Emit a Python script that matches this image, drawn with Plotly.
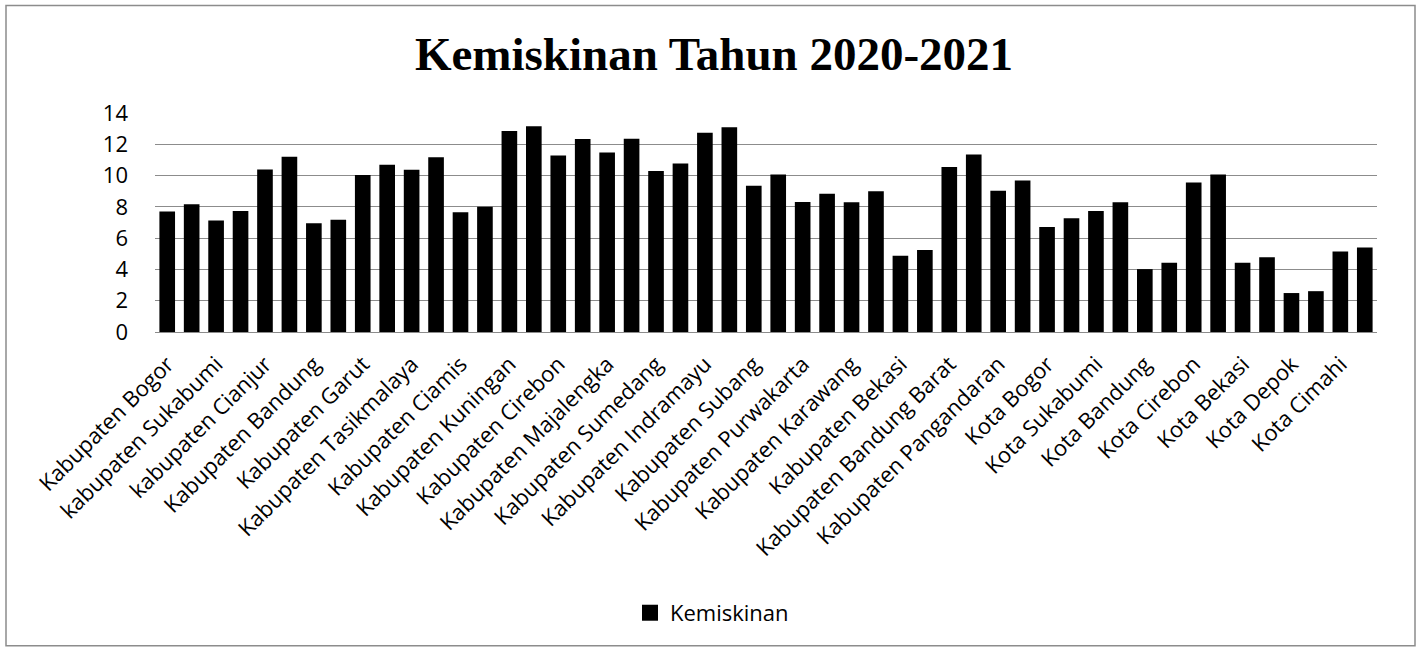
import plotly.graph_objects as go

categories = [
    "Kabupaten Bogor", "kabupaten Sukabumi", "kabupaten Cianjur", "Kabupaten Bandung",
    "Kabupaten Garut", "Kabupaten Tasikmalaya", "Kabupaten Ciamis", "Kabupaten Kuningan",
    "Kabupaten Cirebon", "Kabupaten Majalengka", "Kabupaten Sumedang", "Kabupaten Indramayu",
    "Kabupaten Subang", "Kabupaten Purwakarta", "Kabupaten Karawang", "Kabupaten Bekasi",
    "Kabupaten Bandung Barat", "Kabupaten Pangandaran", "Kota Bogor", "Kota Sukabumi",
    "Kota Bandung", "Kota Cirebon", "Kota Bekasi", "Kota Depok", "Kota Cimahi",
]
values_2020 = [7.71, 7.12, 10.39, 6.95, 10.03, 10.37, 7.65, 12.85, 11.28, 11.47, 10.30, 12.73,
               9.35, 8.31, 8.29, 4.87, 10.54, 9.03, 6.71, 7.73, 4.02, 9.56, 4.42, 2.49, 5.14]
values_2021 = [8.16, 7.73, 11.20, 7.18, 10.69, 11.17, 8.01, 13.15, 12.34, 12.36, 10.77, 13.09,
               10.07, 8.84, 8.99, 5.25, 11.34, 9.69, 7.27, 8.29, 4.42, 10.07, 4.78, 2.61, 5.40]
y_ticks = [0, 2, 4, 6, 8, 10, 12, 14]

W, H = 1419, 652
L, R, T, B = 155, 1377, 112.7, 332.3

fig = go.Figure()
fig.add_trace(go.Bar(x=categories, y=values_2020, name="Kemiskinan",
                     marker=dict(color="black", line=dict(width=0)), showlegend=False))
fig.add_trace(go.Bar(x=categories, y=values_2021, name="Kemiskinan",
                     marker=dict(color="black", line=dict(width=0)), showlegend=False))
# legend entry (square swatch like the original)
fig.add_trace(go.Scatter(x=[None], y=[None], mode="markers", name="Kemiskinan",
                         marker=dict(symbol="square", size=16, color="black"), showlegend=True))

def px_x(p):
    return (p - L) / (R - L)

def px_y(p):
    return (B - p) / (B - T)

fig.update_layout(
    width=W, height=H,
    margin=dict(l=L, r=W - R, t=T, b=H - B, pad=0),
    paper_bgcolor="white", plot_bgcolor="white",
    barmode="group", bargap=0, bargroupgap=0.36,
    font=dict(family="Open Sans", color="black", size=22),
    title=dict(text="<b>Kemiskinan Tahun 2020-2021</b>",
               font=dict(family="Liberation Serif", size=47, color="black"),
               x=714 / W, xanchor="center", y=1 - 54 / H, yanchor="middle",
               xref="container", yref="container"),
    xaxis=dict(tickangle=-45, showgrid=False, ticks="", showline=False,
               tickfont=dict(size=22, family="Open Sans"), automargin=False,
               ticklabelstandoff=14, ticklabelshift=-12),
    yaxis=dict(range=[0, 14], tickvals=y_ticks, showgrid=True, gridcolor="#8c8c8c",
               gridwidth=1.3, zeroline=True, zerolinecolor="#8c8c8c", zerolinewidth=1.3,
               ticks="", showline=False, tickfont=dict(size=22, family="Open Sans"),
               ticklabelstandoff=26, automargin=False),
    legend=dict(orientation="h", x=px_x(712), xanchor="center", y=px_y(614), yanchor="middle",
                font=dict(size=22, family="Open Sans"), itemwidth=30, itemsizing="trace",
                bgcolor="rgba(0,0,0,0)"),
    shapes=[dict(type="rect", xref="paper", yref="paper",
                 x0=px_x(6), x1=px_x(1415), y0=px_y(647), y1=px_y(5),
                 line=dict(color="#8c8c8c", width=1.5), fillcolor="rgba(0,0,0,0)", layer="below")],
)

fig.write_html("out.html")
